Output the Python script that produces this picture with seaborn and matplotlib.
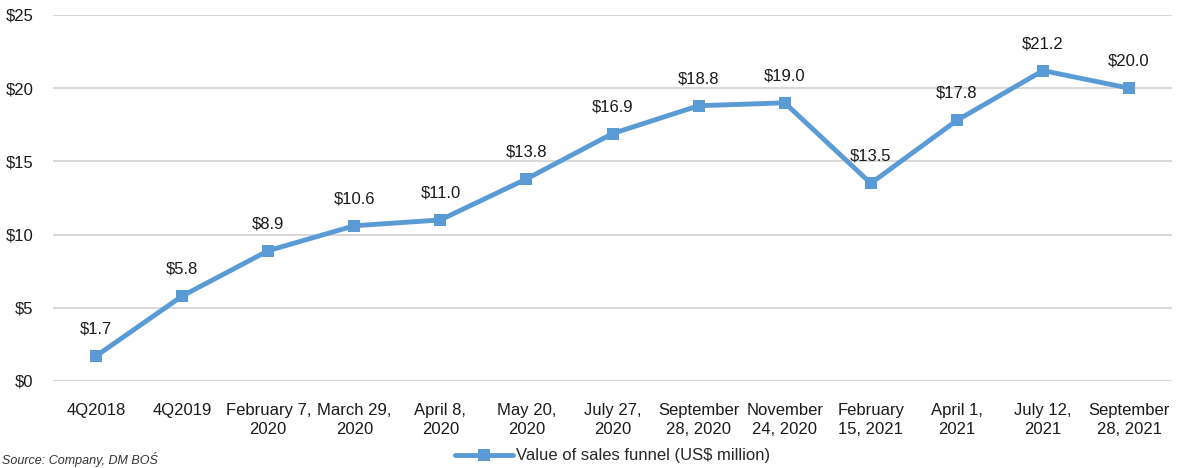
import numpy as np
import pandas as pd
import seaborn as sns
import matplotlib.pyplot as plt

categories = ["4Q2018", "4Q2019", "February 7,\n2020", "March 29,\n2020", "April 8,\n2020",
              "May 20,\n2020", "July 27,\n2020", "September\n28, 2020", "November\n24, 2020",
              "February\n15, 2021", "April 1,\n2021", "July 12,\n2021", "September\n28, 2021"]
values = [1.7, 5.8, 8.9, 10.6, 11.0, 13.8, 16.9, 18.8, 19.0, 13.5, 17.8, 21.2, 20.0]
y_ticks = [0, 5, 10, 15, 20, 25]
series_name = "Value of sales funnel (US$ million)"

sns.set_theme(style="white")
plt.rcParams['font.family'] = ['Liberation Sans Narrow', 'Liberation Sans', 'DejaVu Sans']

df = pd.DataFrame({"x": np.arange(len(categories)), "value": values, "series": series_name})

fig = plt.figure(figsize=(11.78, 4.68), dpi=100)
ax = fig.add_axes([0.045, 0.186, 0.95, 0.782])
color = "#5B9BD5"
sns.lineplot(data=df, x="x", y="value", hue="series", palette=[color], marker="s",
             markersize=9, markeredgewidth=0, linewidth=3.5, ax=ax)

for xi, v in zip(df["x"], values):
    ax.annotate(f"${v:.1f}", (xi, v), xytext=(0, 14), textcoords="offset points",
                ha="center", va="bottom", fontsize=12, color="#1a1a1a")

ax.set_xlim(-0.5, len(categories) - 0.5)
ax.set_ylim(0, 25)
ax.set_yticks(y_ticks)
ax.set_yticklabels([f"${t}" for t in y_ticks], fontsize=12, color="#1a1a1a")
ax.set_xticks(df["x"])
ax.set_xticklabels(categories, fontsize=12, color="#1a1a1a", linespacing=1.3)
ax.tick_params(axis="x", length=0, pad=16)
ax.tick_params(axis="y", length=0, pad=14)
ax.yaxis.grid(True, color="#d9d9d9", linewidth=1.5)
ax.set_axisbelow(True)
for s in ax.spines.values():
    s.set_visible(False)
ax.set_xlabel("")
ax.set_ylabel("")

handles, labels = ax.get_legend_handles_labels()
ax.legend(handles, labels, loc="center", bbox_to_anchor=(0.5, -0.205), frameon=False,
          fontsize=12, handlelength=3.5, handletextpad=0.2)

fig.text(0.002, 0.002, "Source: Company, DM BOŚ", fontsize=9, style="italic",
         color="#333333", va="bottom")

fig.savefig("out.png", dpi=100)
